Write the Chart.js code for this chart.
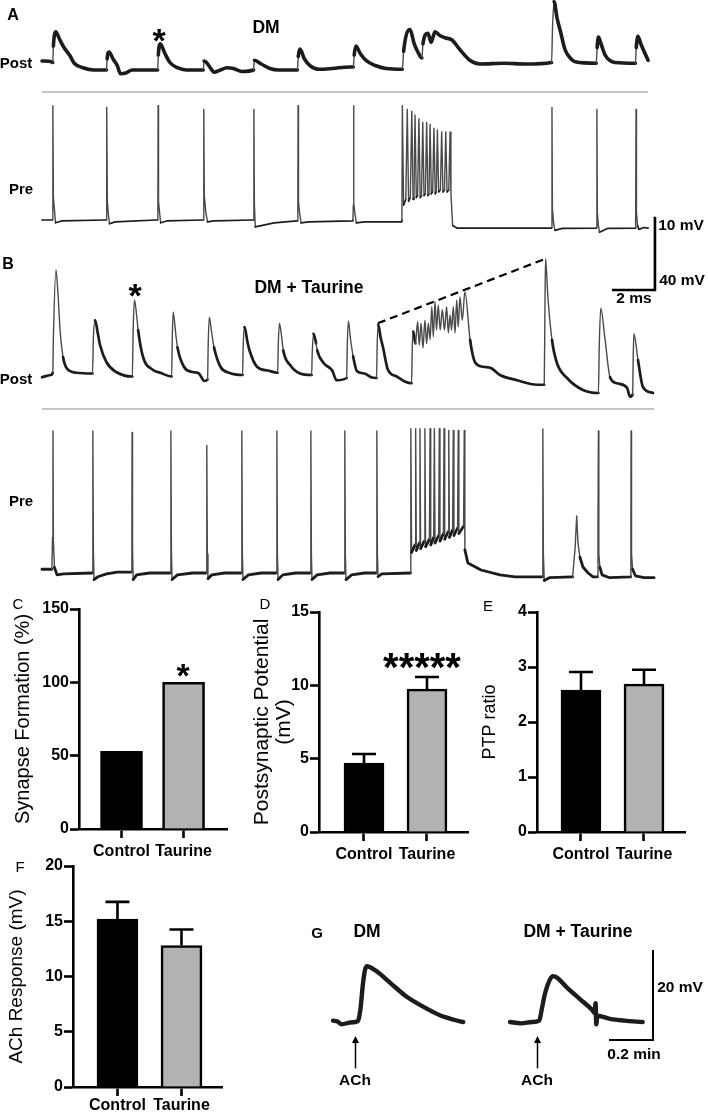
<!DOCTYPE html>
<html lang="en">
<head>
<meta charset="UTF-8">
<title>DM / Taurine synapse figure</title>
<script src="https://cdn.jsdelivr.net/npm/chart.js"></script>
<style>
    body { margin: 0; width: 708px; height: 1113px; position: relative; overflow: hidden; background: #fff;
           font-family: "Liberation Sans", Arial, Helvetica, sans-serif; color: #000; }
    canvas { position: absolute; }
    .t { position: absolute; transform: translate(-50%, -50%); white-space: nowrap; font-weight: bold; line-height: 1; }
    .n { font-weight: normal; }
</style>
</head>
<body>

<canvas id="traces" width="708" height="600" style="left:0px;top:0px"></canvas>
<canvas id="chartC" width="235" height="265" style="left:0px;top:595px"></canvas>
<canvas id="chartD" width="235" height="265" style="left:235px;top:595px"></canvas>
<canvas id="chartE" width="238" height="265" style="left:470px;top:595px"></canvas>
<canvas id="chartF" width="235" height="258" style="left:0px;top:855px"></canvas>
<canvas id="traceG" width="418" height="180" style="left:290px;top:900px"></canvas>

<!-- panel A / B labels -->
<div class="t" style="left:13px;top:15px;font-size:16px">A</div>
<div class="t" style="left:266px;top:28px;font-size:17.5px">DM</div>
<div class="t" style="left:16px;top:62px;font-size:15px">Post</div>
<div class="t" style="left:21px;top:188px;font-size:15px">Pre</div>
<div class="t" style="left:159px;top:40px;font-size:34px">*</div>
<div class="t" style="left:8px;top:264px;font-size:16px">B</div>
<div class="t" style="left:309px;top:288px;font-size:17.5px">DM + Taurine</div>
<div class="t" style="left:135px;top:295px;font-size:34px">*</div>
<div class="t" style="left:16px;top:378px;font-size:15px">Post</div>
<div class="t" style="left:21px;top:500px;font-size:15px">Pre</div>
<div class="t" style="left:681px;top:225px;font-size:15.5px">10 mV</div>
<div class="t" style="left:682px;top:280px;font-size:15.5px">40 mV</div>
<div class="t" style="left:634px;top:298px;font-size:15.5px">2 ms</div>

<!-- bar panels -->
<div class="t n" style="left:18px;top:603px;font-size:15px">C</div>
<div class="t" style="left:183px;top:675px;font-size:34px">*</div>
<div class="t n" style="left:265px;top:603px;font-size:15px">D</div>
<div class="t" style="left:422px;top:667px;font-size:40px">*****</div>
<div class="t n" style="left:488px;top:605px;font-size:15px">E</div>
<div class="t n" style="left:20px;top:866px;font-size:15px">F</div>

<!-- panel G labels -->
<div class="t" style="left:317px;top:932px;font-size:15px">G</div>
<div class="t" style="left:367px;top:932px;font-size:17.5px">DM</div>
<div class="t" style="left:578px;top:932px;font-size:17.5px">DM + Taurine</div>
<div class="t" style="left:680px;top:987px;font-size:15.5px">20 mV</div>
<div class="t" style="left:634px;top:1054px;font-size:15.5px">0.2 min</div>
<div class="t" style="left:355px;top:1080px;font-size:15.5px">ACh</div>
<div class="t" style="left:537px;top:1080px;font-size:15.5px">ACh</div>

<script>
    // ---------- data ----------
    // traces: [time (ms), mV relative to resting level]
    const postA = [
        [0, 1.2], [0.45, 1.1], [0.5, 1.0], [0.53, 3.2], [0.64, 5.1], [0.8, 4.2], [1.0, 3.1], [1.3, 1.9], [1.5, 0.9], [1.9, 0.3], [2.4, 0], [3.0, 0],
        [3.03, 1.5], [3.12, 2.4], [3.3, 1.5], [3.5, 0.6], [3.65, -0.5], [3.9, -0.4], [4.2, 0], [5.38, 0],
        [5.41, 2], [5.5, 3.5], [5.7, 2.3], [5.95, 1.0], [6.3, 0.3], [6.7, 0], [7.5, 0],
        [7.54, 1.2], [7.65, 1.0], [7.9, 0], [8.0, -0.3], [8.3, 0], [8.6, 0.3], [8.9, 0.2], [9.3, -0.2], [9.84, 0],
        [9.88, 1.3], [10.2, 0.8], [10.6, 0.2], [11, 0], [11.88, 0],
        [11.92, 1.8], [12.0, 2.8], [12.2, 1.5], [12.5, 0.5], [12.9, 0.1], [13.5, 0.2], [14.3, 0.4], [14.48, 0.4],
        [14.52, 2], [14.6, 3.2], [14.8, 2.2], [15.1, 1.2], [15.5, 0.6], [16, 0.2], [16.76, 0.1],
        [16.82, 2.5], [17.12, 5.4], [17.3, 3.6], [17.5, 2.3], [17.67, 1.6], [17.72, 3.5], [17.95, 4.9], [18.1, 3.7], [18.2, 4.5], [18.28, 5.1],
        [18.5, 4.6], [18.74, 4.3], [19.07, 4.0], [19.44, 2.7], [19.9, 1.3], [20.37, 0.8], [21.5, 0.9], [22.5, 0.8], [23.7, 1.0],
        [23.75, 6], [23.82, 9.1], [23.95, 7], [24.1, 5.3], [24.33, 2.7], [24.6, 1.5], [24.8, 1.1], [25.78, 0.9],
        [25.82, 3], [25.88, 4.4], [26.0, 3.5], [26.19, 2.0], [26.4, 1.3], [26.65, 1.0], [27.6, 0.9],
        [27.64, 3], [27.72, 4.5], [27.85, 3.5], [28.0, 2.5], [28.19, 1.3]
    ];

    const preA = [
        [0, 0], [0.47, 0], [0.5, 10], [0.51, 61], [0.53, 12], [0.57, 7], [0.63, -1.5], [0.9, -0.5], [2.9, 0],
        [2.98, 0], [3.0, 8], [3.02, 60], [3.04, 10], [3.08, 4], [3.14, -2], [3.4, -1], [5.3, 0],
        [5.37, 0], [5.39, 9], [5.40, 61], [5.42, 10], [5.46, 5], [5.52, -1.5], [5.8, -0.5], [7.45, 0],
        [7.5, 0], [7.52, 12], [7.53, 59], [7.55, 13], [7.62, 4], [7.7, -1], [8.0, -0.5], [9.8, 0],
        [9.83, 0], [9.85, 8], [9.86, 59], [9.88, 8], [9.92, -3.7], [10.2, -3], [10.8, -1.5], [11.85, -0.5],
        [11.88, -0.5], [11.9, 9], [11.91, 61], [11.93, 10], [11.98, 4], [12.05, -1.5], [12.4, -1], [14.45, -0.5],
        [14.46, 0], [14.48, 8], [14.49, 61], [14.51, 9], [14.56, 3], [14.62, -1.5], [15, -1], [16.7, -1],
        [16.74, 0], [16.76, 61], [16.82, 8], [16.92, 11], [16.99, 59], [17.05, 10], [17.13, 12], [17.2, 58], [17.26, 11], [17.3, 12],
        [17.35, 56], [17.41, 12], [17.47, 13], [17.53, 54], [17.59, 12], [17.65, 13], [17.71, 52], [17.77, 13], [17.83, 14],
        [17.89, 52], [17.95, 13], [18.0, 14], [18.05, 51], [18.11, 14], [18.17, 15], [18.23, 49], [18.29, 14], [18.34, 15],
        [18.39, 48], [18.45, 15], [18.53, 16], [18.59, 47], [18.65, 15], [18.72, 16], [18.78, 47], [18.84, 15], [18.92, 16],
        [18.98, 47], [19.02, 14], [19.1, -3], [19.3, -4.3], [23.68, -4.3],
        [23.7, -4], [23.72, 60], [23.74, 6], [23.8, -2], [23.86, -5.5], [24.2, -4.5], [25.78, -4.3],
        [25.79, -4], [25.81, 59], [25.83, 4], [25.88, -3], [25.93, -6.5], [26.3, -4.5], [27.6, -4.3],
        [27.61, -4], [27.63, 59], [27.65, 4], [27.7, -3], [27.76, -5], [28.0, -4], [28.19, -4.3]
    ];

    const postB = [
        [0, -0.3], [0.4, 0], [0.5, 0.3], [0.53, 5], [0.65, 14], [0.75, 10.5], [0.84, 6], [0.98, 2.4], [1.15, 0.9], [1.6, 0.3], [2.35, 0.2],
        [2.39, 5], [2.47, 7.3], [2.6, 5.5], [2.7, 4.0], [3.0, 1.7], [3.45, 0.4], [4.2, -0.2],
        [4.24, 6], [4.3, 10], [4.4, 8], [4.47, 6], [4.7, 2.4], [5.15, 0.7], [5.5, 0.3], [6.03, -0.2],
        [6.06, 5], [6.1, 8.4], [6.22, 5.5], [6.3, 3.7], [6.6, 1.1], [7.0, 0.4], [7.3, 0.2], [7.55, -0.8], [7.7, -0.6],
        [7.73, 4], [7.78, 7.7], [7.9, 5.5], [8.0, 3.7], [8.3, 1.1], [8.7, 0.3], [9.33, 0],
        [9.36, 4], [9.42, 6.4], [9.55, 4.5], [9.65, 3.3], [10.0, 1.1], [10.5, 0.6], [10.96, 0.3],
        [10.99, 4], [11.04, 6.9], [11.15, 5], [11.22, 3.3], [11.55, 1.3], [12, 0.2], [12.54, 0],
        [12.57, 3], [12.63, 5.5], [12.75, 4.2], [12.8, 3.3], [13.1, 1.6], [13.5, 0.6], [13.7, -0.7], [14.17, -0.4],
        [14.2, 4], [14.25, 7.2], [14.35, 4.8], [14.47, 2.5], [14.65, 0.5], [15.0, 0.2], [15.3, -0.3], [15.56, -0.4],
        [15.59, 4], [15.64, 6.7], [15.75, 5], [15.86, 3.7], [16.09, 0.7], [16.5, -0.2], [16.9, -0.9], [17.19, -1.1],
        [17.22, 3.5], [17.27, 5.8], [17.37, 4.2], [17.47, 7.1], [17.55, 4.0], [17.63, 6.9], [17.72, 3.6], [17.81, 7.3], [17.89, 4.2],
        [17.97, 6.9], [18.05, 4.7], [18.13, 9.1], [18.2, 5.1], [18.28, 9.8], [18.35, 6.0], [18.43, 9.3], [18.52, 6.0], [18.62, 8.7],
        [18.72, 6.0], [18.82, 9.1], [18.9, 5.6], [18.98, 8.0], [19.05, 6.0], [19.13, 9.1], [19.21, 5.6], [19.29, 10], [19.36, 6.4],
        [19.44, 10.4], [19.55, 7.3], [19.67, 11.1],
        [19.91, 4.7], [20.14, 1.7], [20.51, 1.1], [20.9, 0.9], [21.3, 0], [22.09, -0.7], [23.02, -1.3], [23.36, -1.3],
        [23.39, 8], [23.42, 15.5], [23.53, 10.4], [23.72, 4.7], [23.95, 1.6], [24.42, -0.4], [25.16, -2], [25.88, -2.4],
        [25.92, 4], [25.99, 8.9], [26.19, 4.7], [26.42, -0.3], [26.74, -1.1], [27.21, -1.7], [27.35, -2.9], [27.47, -2.6],
        [27.5, 2.5], [27.53, 5.5], [27.72, 2], [27.95, -1.6], [28.42, -2.4]
    ];

    const preB = [
        [0, 2], [0.46, 2], [0.49, 19], [0.51, 75.7], [0.53, 17], [0.58, 3], [0.7, -1], [1.0, -0.5], [2.34, 0],
        [2.35, 0], [2.36, 15], [2.37, 75.7], [2.39, 12], [2.42, -3.5], [2.6, -2], [3.0, -0.5], [3.5, 0.5], [4.16, 0.5],
        [4.17, 0.5], [4.18, 20], [4.19, 75], [4.21, 14], [4.24, -3.5], [4.4, -1], [5.0, 0], [5.97, 0],
        [5.98, 0], [5.99, 13], [6.0, 75.7], [6.02, 12], [6.05, -3.5], [6.3, -1], [7.0, 0], [7.64, 0],
        [7.65, 0], [7.66, 10], [7.67, 68], [7.69, 10], [7.72, -3], [7.9, -1], [8.5, 0], [9.27, 0],
        [9.28, 0], [9.29, 12], [9.3, 75.7], [9.32, 10], [9.35, -3.5], [9.6, -1], [10.2, 0], [10.9, 0],
        [10.91, 0], [10.92, 12], [10.93, 75.7], [10.95, 10], [10.98, -3.5], [11.2, -1], [11.8, 0], [12.48, 0],
        [12.49, 0], [12.5, 12], [12.51, 75.7], [12.53, 10], [12.56, -3.5], [12.8, -1], [13.4, 0], [14.06, 0],
        [14.07, 0], [14.08, 14], [14.09, 75.7], [14.11, 10], [14.14, -3.5], [14.4, -1], [15.0, 0], [15.55, 0],
        [15.56, 0], [15.57, 14], [15.58, 75.7], [15.6, 10], [15.63, -2], [15.8, -0.5], [17.14, 0],
        [17.15, 10], [17.16, 77], [17.19, 11], [17.35, 15], [17.38, 77], [17.41, 12], [17.55, 16], [17.58, 77], [17.61, 13],
        [17.78, 17], [17.81, 77], [17.84, 14], [18.02, 18], [18.05, 77], [18.08, 15], [18.22, 19], [18.25, 77], [18.28, 16],
        [18.45, 20], [18.48, 77], [18.51, 17], [18.67, 21], [18.70, 77], [18.73, 18], [18.89, 22], [18.92, 76], [18.95, 19],
        [19.10, 23], [19.13, 76], [19.16, 20], [19.33, 24], [19.36, 76], [19.39, 21], [19.61, 25], [19.64, 76], [19.67, 12.3],
        [19.81, 5.3], [20.42, 1.6], [21.3, -1], [22, -2.1], [23.27, -2.1],
        [23.28, -2], [23.29, 24], [23.3, 76.8], [23.32, 10], [23.36, -4], [23.6, -2.5], [24.68, -2.1],
        [24.8, 14], [24.87, 30.4], [24.93, 16], [25.02, 8.5], [25.16, 3.2], [25.4, 0], [25.63, -2.1], [25.83, -2.1],
        [25.86, 25], [25.88, 75.7], [25.9, 10], [25.95, 3], [26.05, -1], [26.4, -2.5], [27.37, -2.1],
        [27.38, -2], [27.39, 25], [27.4, 75.7], [27.42, 10], [27.47, 2], [27.6, -1.5], [28.0, -2.5], [28.47, -2.5]
    ];

    // dashed envelope in B: first peak before the train to the post-tetanic peak
    const ptpLine = [[15.62, 6.9], [23.42, 15.5]];

    // panel G: [time (min), mV]
    const achDM = [
        [0, 0.3], [0.02, 0.1], [0.04, -0.5], [0.07, -0.2], [0.1, 0], [0.114, 0.3], [0.125, 3], [0.135, 8], [0.145, 11.5],
        [0.155, 12.4], [0.175, 12], [0.2, 11.2], [0.26, 8.7], [0.335, 5.6], [0.41, 3.4], [0.486, 1.5], [0.55, 0.5], [0.592, 0]
    ];
    const achTau = [
        [0, 0], [0.05, -0.3], [0.1, 0], [0.133, 0.3], [0.145, 3], [0.16, 6.5], [0.18, 9.3], [0.195, 10.2], [0.215, 9.8],
        [0.258, 7.7], [0.318, 5.1], [0.375, 2.6], [0.385, 2.0], [0.389, 4.2], [0.392, -0.5], [0.397, 1.4], [0.455, 0.7],
        [0.52, 0.3], [0.603, 0]
    ];
    const achTimes = [0.1, 0.123];   // ACh application (DM, DM + Taurine)

    // bar panels
    const groups = ['Control', 'Taurine'];
    const synapseFormation = [53, 100];
    const pspMean = [4.7, 9.75];
    const pspSem = [0.62, 0.82];
    const ptpMean = [2.58, 2.69];
    const ptpSem = [0.33, 0.26];
    const achMean = [15.2, 12.8];
    const achSem = [1.55, 1.45];

    // ---------- chart setup ----------
    Chart.defaults.font.family = '"Liberation Sans", Arial, Helvetica, sans-serif';
    Chart.defaults.color = '#000';
    Chart.defaults.animation = false;
    Chart.defaults.events = [];
    Chart.defaults.plugins.legend.display = false;
    Chart.defaults.plugins.tooltip.enabled = false;

    function pts(arr) {
        return arr.map(p => ({ x: p[0], y: p[1] }));
    }

    // thin grey stroke only on the fast jumps of a trace
    function steepTest(limit) {
        return ctx => {
            const dx = Math.abs(ctx.p1.x - ctx.p0.x);
            const dy = Math.abs(ctx.p1.y - ctx.p0.y);
            return dy > limit * Math.max(dx, 0.5);
        };
    }

    function traceSet(arr, yId, width, smooth, xId, limit) {
        const steep = steepTest(limit || 5);
        const thin = Math.min(1.4, width);
        return {
            data: pts(arr),
            xAxisID: xId || 'x',
            yAxisID: yId,
            borderColor: '#1c1c1c',
            borderWidth: width,
            pointRadius: 0,
            tension: smooth ? 0.4 : 0,
            cubicInterpolationMode: smooth ? 'monotone' : 'default',
            borderJoinStyle: 'round',
            borderCapStyle: 'round',
            segment: {
                borderWidth: ctx => steep(ctx) ? thin : width,
                borderColor: ctx => steep(ctx) ? '#4a4a4a' : '#1c1c1c'
            }
        };
    }

    const traceDecor = {
        id: 'traceDecor',
        beforeDatasetsDraw(chart, args, opts) {
            const { ctx, scales } = chart;
            const x = scales.x;
            ctx.save();
            opts.separators.forEach(s => {
                const y = scales[s.axis].getPixelForValue(s.v);
                ctx.strokeStyle = '#c6c6c6';
                ctx.lineWidth = 2;
                ctx.beginPath();
                ctx.moveTo(x.getPixelForValue(s.t0), y);
                ctx.lineTo(x.getPixelForValue(s.t1), y);
                ctx.stroke();
            });
            ctx.restore();
        },
        afterDatasetsDraw(chart, args, opts) {
            const { ctx, scales } = chart;
            const x = scales.x;
            const b = opts.bar;
            const ys = scales[b.axis];
            const bx = x.getPixelForValue(b.t);
            const by0 = ys.getPixelForValue(b.v0);
            ctx.save();
            ctx.strokeStyle = '#000';
            ctx.lineWidth = 2.6;
            ctx.beginPath();
            ctx.moveTo(bx, ys.getPixelForValue(b.v1));
            ctx.lineTo(bx, by0);
            ctx.lineTo(x.getPixelForValue(b.t - b.len), by0);
            ctx.stroke();
            ctx.restore();
        }
    };

    new Chart(document.getElementById('traces'), {
        type: 'line',
        data: {
            datasets: [
                traceSet(postA, 'yPostA', 3.6, true, 'x', 9),
                traceSet(preA, 'yPreA', 1.7, false),
                traceSet(postB, 'yPostB', 2.7, true, 'x', 6),
                traceSet(preB, 'yPreB', 2.8, false),
                {
                    data: pts(ptpLine), yAxisID: 'yPostB', borderColor: '#000', borderWidth: 2.2,
                    borderDash: [8, 5], pointRadius: 0, tension: 0
                }
            ]
        },
        options: {
            responsive: false,
            layout: { padding: 0 },
            scales: {
                x: { type: 'linear', display: false, min: -1.9535, max: 30.977 },
                yPostA: { type: 'linear', display: false, min: -70.667, max: 9.333 },
                yPreA: { type: 'linear', display: false, min: -202.667, max: 117.333 },
                yPostB: { type: 'linear', display: false, min: -30, max: 50 },
                yPreB: { type: 'linear', display: false, min: -14.4, max: 305.6 }
            },
            plugins: {
                traceDecor: {
                    separators: [
                        { axis: 'yPostA', v: -2.93, t0: 0, t1: 28.19 },
                        { axis: 'yPostB', v: -4.53, t0: 0, t1: 28.47 }
                    ],
                    // 10 mV (post) / 40 mV (pre) by 2 ms
                    bar: { axis: 'yPostB', t: 28.51, len: 2, v0: 11.33, v1: 21.1 }
                }
            }
        },
        plugins: [traceDecor]
    });

    // ---------- bar panels ----------
    const errorBars = {
        id: 'errorBars',
        afterDatasetsDraw(chart, args, opts) {
            if (!opts.sems) return;
            const meta = chart.getDatasetMeta(0);
            const y = chart.scales.y;
            const ctx = chart.ctx;
            ctx.save();
            ctx.strokeStyle = '#000';
            ctx.lineWidth = 2.6;
            meta.data.forEach((bar, i) => {
                const m = chart.data.datasets[0].data[i].y;
                const yTop = y.getPixelForValue(m + opts.sems[i]);
                const yMid = y.getPixelForValue(m);
                ctx.beginPath();
                ctx.moveTo(bar.x, yMid);
                ctx.lineTo(bar.x, yTop);
                ctx.moveTo(bar.x - 12, yTop);
                ctx.lineTo(bar.x + 12, yTop);
                ctx.stroke();
            });
            ctx.restore();
        }
    };

    function barPanel(id, means, sems, cfg) {
        new Chart(document.getElementById(id), {
            type: 'bar',
            data: {
                datasets: [{
                    data: means.map((v, i) => ({ x: i + 1, y: v })),
                    backgroundColor: ['#000000', '#b2b2b2'],
                    borderColor: '#000',
                    borderWidth: 2.6,
                    barThickness: cfg.bar
                }]
            },
            options: {
                responsive: false,
                layout: { padding: { top: cfg.padTop, right: cfg.padRight, left: 0, bottom: 0 } },
                scales: {
                    x: {
                        type: 'linear', min: cfg.xmin, max: cfg.xmax, offset: false,
                        afterBuildTicks: s => { s.ticks = [{ value: 1 }, { value: 2 }]; },
                        afterFit: s => { s.height = cfg.xh; },
                        border: { display: true, width: 2.6, color: '#000' },
                        grid: { offset: false, drawOnChartArea: false, drawTicks: true, tickLength: 9, tickWidth: 2.6, tickColor: '#000' },
                        ticks: { padding: cfg.tickPad, font: { size: 16, weight: 'bold' }, maxRotation: 0, autoSkip: false, callback: (v, i) => groups[i] }
                    },
                    y: {
                        min: 0, max: cfg.ymax,
                        afterFit: s => { s.width = cfg.yw; },
                        border: { display: true, width: 2.6, color: '#000' },
                        grid: { drawOnChartArea: false, drawTicks: true, tickLength: 9, tickWidth: 2.6, tickColor: '#000' },
                        ticks: { stepSize: cfg.step, padding: 1, font: { size: 16, weight: 'bold' } },
                        title: {
                            display: true, text: cfg.title, color: '#000',
                            font: { size: cfg.titleSize, lineHeight: cfg.titleLH || 1.2 },
                            padding: { top: cfg.titlePad, bottom: 0 }
                        }
                    }
                },
                plugins: { errorBars: { sems: sems } }
            },
            plugins: [errorBars]
        });
    }

    barPanel('chartC', synapseFormation, null, {
        bar: 42, padTop: 14, padRight: 8, xh: 31, yw: 79, xmin: 0.315, xmax: 2.70, tickPad: 4,
        ymax: 150, step: 50, title: 'Synapse Formation (%)', titleSize: 20, titlePad: 11
    });
    barPanel('chartD', pspMean, pspSem, {
        bar: 40, padTop: 17, padRight: 2, xh: 28, yw: 84, xmin: 0.286, xmax: 2.651, tickPad: 4,
        ymax: 15, step: 5, title: ['Postsynaptic Potential', '(mV)'], titleSize: 21, titleLH: 1.05, titlePad: 16.5
    });
    barPanel('chartE', ptpMean, ptpSem, {
        bar: 40, padTop: 17, padRight: 23, xh: 28, yw: 67, xmin: 0.302, xmax: 2.651, tickPad: 4,
        ymax: 4, step: 1, title: 'PTP ratio', titleSize: 18, titlePad: 9.2
    });
    barPanel('chartF', achMean, achSem, {
        bar: 41, padTop: 11, padRight: 13, xh: 26, yw: 73, xmin: 0.305, xmax: 2.633, tickPad: 0,
        ymax: 20, step: 5, title: 'ACh Response (mV)', titleSize: 19, titlePad: 5.6
    });

    // ---------- panel G ----------
    const gDecor = {
        id: 'gDecor',
        afterDatasetsDraw(chart, args, opts) {
            const { ctx, scales } = chart;
            const y = scales.y;
            ctx.save();
            ctx.strokeStyle = '#000';
            ctx.fillStyle = '#000';
            // scale bar 20 mV / 0.2 min
            const b = opts.bar;
            const bx = scales.x2.getPixelForValue(b.t);
            const by0 = y.getPixelForValue(b.v0);
            ctx.lineWidth = 2;
            ctx.beginPath();
            ctx.moveTo(bx, y.getPixelForValue(b.v1));
            ctx.lineTo(bx, by0);
            ctx.lineTo(scales.x2.getPixelForValue(b.t - b.len), by0);
            ctx.stroke();
            // ACh arrows
            ['x', 'x2'].forEach((id, i) => {
                const ax = Math.round(scales[id].getPixelForValue(achTimes[i])) + 0.5;
                const tip = y.getPixelForValue(opts.arrow.tip);
                const tail = y.getPixelForValue(opts.arrow.tail);
                ctx.lineWidth = 1.5;
                ctx.beginPath();
                ctx.moveTo(ax, tail);
                ctx.lineTo(ax, tip + 5);
                ctx.stroke();
                ctx.beginPath();
                ctx.moveTo(ax, tip);
                ctx.lineTo(ax - 3.5, tip + 7);
                ctx.lineTo(ax + 3.5, tip + 7);
                ctx.closePath();
                ctx.fill();
            });
            ctx.restore();
        }
    };

    new Chart(document.getElementById('traceG'), {
        type: 'line',
        data: {
            datasets: [
                traceSet(achDM, 'y', 4.4, true, 'x', 1000),
                traceSet(achTau, 'y', 4.4, true, 'x2', 1000)
            ]
        },
        options: {
            responsive: false,
            layout: { padding: 0 },
            scales: {
                x: { type: 'linear', display: false, min: -0.1955, max: 1.7045 },
                x2: { type: 'linear', display: false, min: -1.0, max: 0.9 },
                y: { type: 'linear', display: false, min: -12.89, max: 27.11 }
            },
            plugins: {
                gDecor: {
                    bar: { t: 0.65, len: 0.2, v0: -4, v1: 16 },
                    arrow: { tip: -3.1, tail: -10.3 }
                }
            }
        },
        plugins: [gDecor]
    });
</script>
</body>
</html>
